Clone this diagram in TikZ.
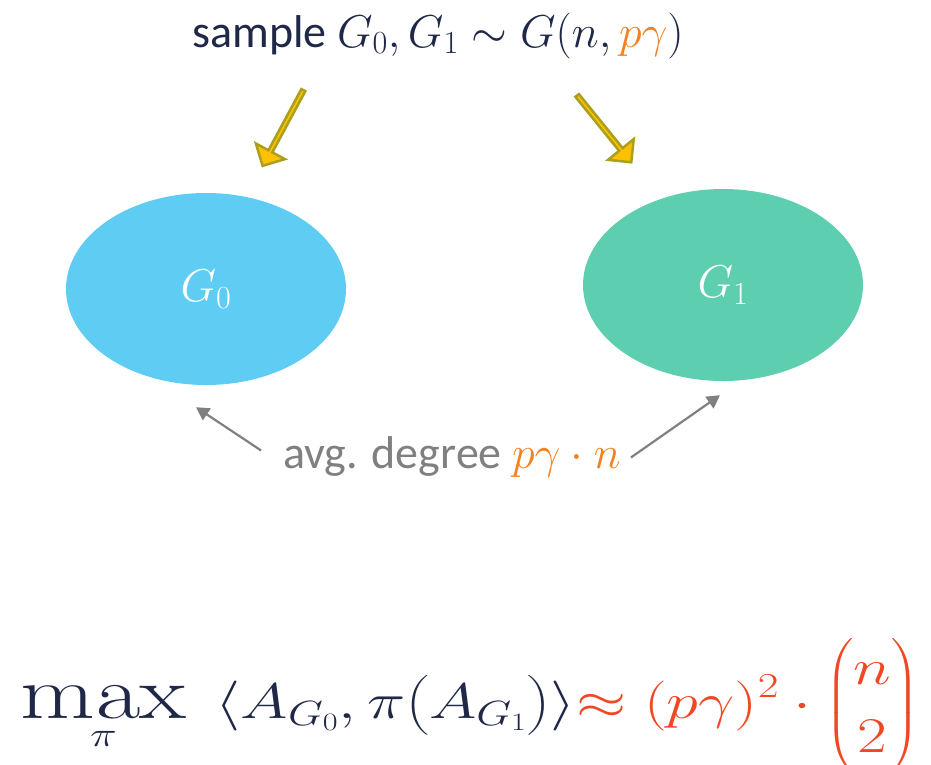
\documentclass[tikz,border=0pt]{standalone}
\usepackage{fix-cm}
\usepackage{amsmath}
\usepackage{graphicx}
\usepackage[no-math]{fontspec}
\setmainfont{Carlito}
\usepackage{tikz}
\usepackage{xcolor}
\usetikzlibrary{shapes.geometric, shapes.arrows, arrows.meta, positioning, calc}
\definecolor{colNavy}   {RGB}{ 32,  40,  72}
\definecolor{colOrange} {RGB}{245, 130,  32}
\definecolor{colGrey}   {RGB}{128, 128, 128}
\definecolor{colRed}    {RGB}{240,  72,  36}
\definecolor{colYellow} {RGB}{255, 192,   0}
\definecolor{colOlive}  {RGB}{170, 160,  30}
\definecolor{colBlue}   {RGB}{ 94, 204, 243}
\definecolor{colTeal}   {RGB}{ 93, 206, 176}
\newcommand{\bigmax}{\mathop{\scalebox{1.5}{$\mathrm{max}$}\rule[-9pt]{0pt}{1pt}}}
\tikzset{
  graphnode/.style={
    ellipse, fill=#1, draw=none, text=white,
    minimum width=280pt, minimum height=192pt,
    inner sep=0pt, font=\fontsize{46}{55}\selectfont
  },
  blockarrow/.style={
    single arrow, fill=colYellow, draw=colOlive, line width=2.5pt,
    minimum height=86pt, minimum width=33pt,
    single arrow head extend=8pt, single arrow tip angle=90,
    inner sep=0pt
  },
  degarrow/.style={
    -{Triangle[width=14pt, length=13pt]}, line width=2.2pt, color=colGrey
  },
  lbl/.style={
    font=\fontsize{46}{55}\selectfont, inner sep=0pt, anchor=base
  },
}

\begin{document}
\begin{tikzpicture}[x=1pt, y=-1pt]

\useasboundingbox (0,0) rectangle (931,764);

%% ── title ───────────────────────────────────────────────────
\node[lbl, text=colNavy] (title) at (438,47)
  {sample $G_0, G_1 \sim G(n, {\color{colOrange}p\gamma})$};

%% ── the two graphs ──────────────────────────────────────────
\node[graphnode=colBlue] (G0) at (206,289) {$G_0$};
\node[graphnode=colTeal] (G1) at (723,285) {$G_1$};

%% ── sampling arrows ─────────────────────────────────────────
\node[blockarrow, rotate=-118.3] (smpL) at (283.5,127) {};
\node[blockarrow, rotate=-51]    (smpR) at (603.5,128) {};

%% ── average degree ──────────────────────────────────────────
\node[lbl, text=colGrey] (deg) at (452,468)
  {avg. degree {\color{colOrange}$p\gamma\cdot n$}};

\coordinate (degL) at ($(deg.west)+(-22,-6)$);
\coordinate (degR) at ($(deg.east)+(10,1)$);
\draw[degarrow] (degL) -- ($(G0.south)+(-10,22)$);
\draw[degarrow] (degR) -- ($(G1.south)+(-3,14)$);

%% ── objective ───────────────────────────────────────────────
\node[lbl, text=colNavy, font=\fontsize{50}{60}\selectfont] (obj) at (470,718)
  {\scalebox{1.29}[1]{$\displaystyle \bigmax\limits_{\pi}\ \ \langle A_{G_0}, \pi\bigl(A_{G_1}\bigr)\rangle
   {\color{colRed}\approx (p\gamma)^2\cdot\binom{n}{2}}$}};

\end{tikzpicture}
\end{document}
